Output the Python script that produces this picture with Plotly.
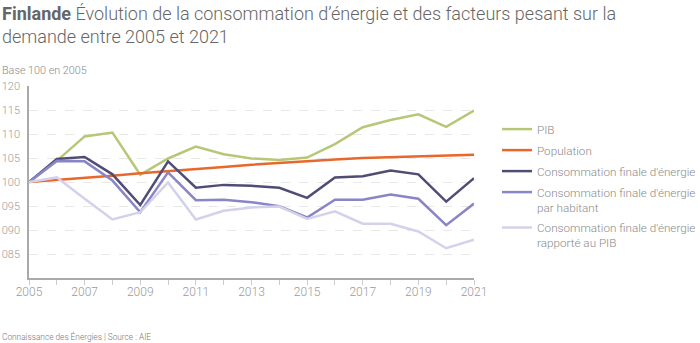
import plotly.graph_objects as go

years = list(range(2005, 2022))
pib = [100, 104.4, 109.5, 110.3, 101.5, 104.9, 107.4, 105.8, 104.9, 104.6, 105.1,
       107.9, 111.4, 112.9, 114.1, 111.5, 114.9]
population = [100, 100.4, 100.8, 101.3, 101.8, 102.2, 102.7, 103.1, 103.6, 104.0, 104.4,
              104.7, 105.0, 105.2, 105.3, 105.5, 105.7]
conso = [100, 104.8, 105.2, 101.6, 95.2, 104.3, 98.8, 99.4, 99.2, 98.8, 96.7,
         100.95, 101.2, 102.4, 101.6, 95.9, 100.8]
conso_hab = [100, 104.4, 104.3, 100.3, 93.7, 102.0, 96.2, 96.3, 95.8, 94.95, 92.6,
             96.3, 96.3, 97.4, 96.5, 91.0, 95.5]
conso_pib = [100, 100.95, 96.5, 92.2, 93.7, 99.9, 92.2, 94.0, 94.7, 94.9, 92.3,
             93.9, 91.3, 91.3, 89.7, 86.2, 88.0]

series = [
    ("PIB", pib, "#b6c878"),
    ("Population", population, "#e9672b"),
    ("Consommation finale d'énergie", conso, "#4f4d76"),
    ("Consommation finale d'énergie<br>par habitant", conso_hab, "#8886c6"),
    ("Consommation finale d'énergie<br>rapporté au PIB", conso_pib, "#d3d2ea"),
]

ytickvals = [85, 90, 95, 100, 105, 110, 115, 120]
yticktext = ["085", "090", "095", "100", "105", "110", "115", "120"]
xticktext = [str(y) if (y - 2005) % 2 == 0 else "" for y in years]

FONT = "Roboto"
L, R, T, B = 29, 226, 86, 65
PW = 700 - L - R
PH = 343 - T - B


def px_x(x):
    return (x - L) / PW


def px_y(y):
    return (343 - B - y) / PH


fig = go.Figure()
for i, (name, vals, col) in enumerate(series):
    fig.add_trace(go.Scatter(x=years, y=vals, mode="lines", name=name,
                             legendgroup=f"g{i}",
                             line=dict(color=col, width=2.5)))

fig.update_layout(
    width=700, height=343,
    margin=dict(l=L, r=R, t=T, b=B, autoexpand=False),
    paper_bgcolor="white", plot_bgcolor="white",
    font=dict(family=FONT, color="#999999", size=11, weight=300),
    showlegend=True,
    legend=dict(x=px_x(497), y=px_y(115), xanchor="left", yanchor="top",
                font=dict(size=11.7, color="#8a8a8a", family=FONT, weight=300),
                itemwidth=30, tracegroupgap=2, valign="top",
                bgcolor="rgba(0,0,0,0)"),
    xaxis=dict(range=[2005, 2021], tickvals=years, ticktext=xticktext,
               automargin=False,
               showgrid=False, zeroline=False,
               showline=True, linecolor="#aaaaaa", linewidth=1.5,
               ticks="outside", ticklen=5, tickcolor="#cccccc",
               ticklabelstandoff=-3,
               tickfont=dict(size=12, color="#9a9a9a", family=FONT, weight=300)),
    yaxis=dict(range=[80, 120], tickvals=ytickvals, ticktext=yticktext,
               automargin=False,
               showgrid=True, gridcolor="#e8e8e8", griddash="dash", gridwidth=1,
               zeroline=False, showline=True, linecolor="#aaaaaa", linewidth=1.5,
               ticks="", ticklabelstandoff=5,
               tickfont=dict(size=11, color="#9a9a9a", family=FONT, weight=300)),
)

fig.add_annotation(
    xref="paper", yref="paper", x=px_x(0), y=px_y(1),
    xanchor="left", yanchor="top", align="left", showarrow=False,
    text="<b>Finlande</b> Évolution de la consommation d’énergie et des facteurs pesant sur la<br>demande entre 2005 et 2021",
    font=dict(size=18, color="#666666", family=FONT, weight=300),
)
fig.add_annotation(
    xref="paper", yref="paper", x=px_x(0), y=px_y(70),
    xanchor="left", yanchor="middle", align="left", showarrow=False,
    text="Base 100 en 2005",
    font=dict(size=10.8, color="#8a8a8a", family=FONT, weight=300),
)
fig.add_annotation(
    xref="paper", yref="paper", x=px_x(0), y=px_y(336),
    xanchor="left", yanchor="middle", align="left", showarrow=False,
    text="Connaissance des Énergies | Source : AIE",
    font=dict(size=8.3, color="#777777", family=FONT, weight=300),
)

fig.write_html("out.html")
